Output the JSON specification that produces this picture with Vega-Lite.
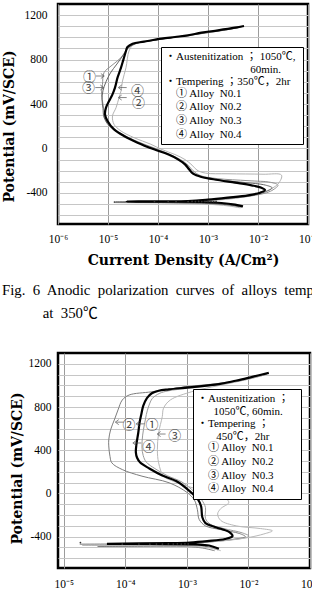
{
  "$schema": "https://vega.github.io/schema/vega-lite/v6.json",
  "background": "white",
  "padding": {"left": 0, "top": 2, "right": 0, "bottom": 0},
  "spacing": 12,
  "resolve": {
    "scale": {"color": "independent", "shape": "independent"},
    "legend": {"color": "independent", "shape": "independent"}
  },
  "config": {
    "view": {"stroke": "black", "strokeWidth": 2.5},
    "axis": {
      "ticks": false, "tickSize": 0, "domain": false,
      "labelFont": "Liberation Serif", "labelFontSize": 11.5, "labelColor": "black",
      "titleFont": "DejaVu Serif", "titleFontWeight": "bold", "titleFontSize": 14, "titleColor": "black",
      "gridWidth": 1, "labelOverlap": false, "labelFlush": false
    },
    "legend": {
      "orient": "none",
      "titleFont": "Liberation Serif, Noto Sans CJK JP", "titleFontWeight": "normal", "titleFontSize": 11, "titleColor": "black",
      "titleLineHeight": 12.6, "titlePadding": 1, "titleLimit": 400,
      "labelFont": "Liberation Serif, Noto Sans CJK JP", "labelFontSize": 11, "labelColor": "black", "labelLimit": 300,
      "symbolSize": 0, "symbolOpacity": 0, "symbolStrokeWidth": 0, "labelOffset": 0, "rowPadding": 1.6,
      "padding": 4, "fillColor": "white", "strokeColor": "black"
    }
  },
  "datasets": {
    "curves350": [
      {"alloy": "N0.1", "current": 4.68e-3, "potential": -530},
      {"alloy": "N0.1", "current": 3.16e-3, "potential": -515},
      {"alloy": "N0.1", "current": 1.58e-3, "potential": -500},
      {"alloy": "N0.1", "current": 3.98e-4, "potential": -490},
      {"alloy": "N0.1", "current": 2.51e-5, "potential": -485},
      {"alloy": "N0.1", "current": 2.51e-4, "potential": -480},
      {"alloy": "N0.1", "current": 7.94e-4, "potential": -470},
      {"alloy": "N0.1", "current": 2.51e-3, "potential": -452},
      {"alloy": "N0.1", "current": 7.94e-3, "potential": -425},
      {"alloy": "N0.1", "current": 1.78e-2, "potential": -385},
      {"alloy": "N0.1", "current": 2.51e-2, "potential": -330},
      {"alloy": "N0.1", "current": 1.78e-2, "potential": -305},
      {"alloy": "N0.1", "current": 6.31e-3, "potential": -290},
      {"alloy": "N0.1", "current": 1.58e-3, "potential": -272},
      {"alloy": "N0.1", "current": 7.08e-4, "potential": -245},
      {"alloy": "N0.1", "current": 5.01e-4, "potential": -200},
      {"alloy": "N0.1", "current": 3.98e-4, "potential": -150},
      {"alloy": "N0.1", "current": 2.82e-4, "potential": -100},
      {"alloy": "N0.1", "current": 1.66e-4, "potential": -50},
      {"alloy": "N0.1", "current": 8.91e-5, "potential": 0},
      {"alloy": "N0.1", "current": 3.98e-5, "potential": 60},
      {"alloy": "N0.1", "current": 1.91e-5, "potential": 130},
      {"alloy": "N0.1", "current": 1.12e-5, "potential": 200},
      {"alloy": "N0.1", "current": 8.71e-6, "potential": 270},
      {"alloy": "N0.1", "current": 8.32e-6, "potential": 337},
      {"alloy": "N0.1", "current": 7.76e-6, "potential": 427},
      {"alloy": "N0.1", "current": 7.41e-6, "potential": 487},
      {"alloy": "N0.1", "current": 7.76e-6, "potential": 577},
      {"alloy": "N0.1", "current": 8.32e-6, "potential": 682},
      {"alloy": "N0.1", "current": 1.15e-5, "potential": 742},
      {"alloy": "N0.1", "current": 1.82e-5, "potential": 817},
      {"alloy": "N0.1", "current": 2.51e-5, "potential": 907},
      {"alloy": "N0.1", "current": 3.55e-5, "potential": 945},
      {"alloy": "N0.1", "current": 7.08e-5, "potential": 968},
      {"alloy": "N0.1", "current": 1.41e-4, "potential": 990},
      {"alloy": "N0.1", "current": 3.55e-4, "potential": 1014},
      {"alloy": "N0.1", "current": 8.91e-4, "potential": 1040},
      {"alloy": "N0.1", "current": 2.00e-3, "potential": 1064},
      {"alloy": "N0.1", "current": 3.98e-3, "potential": 1086},

      {"alloy": "N0.2", "current": 4.47e-3, "potential": -535},
      {"alloy": "N0.2", "current": 2.51e-3, "potential": -517},
      {"alloy": "N0.2", "current": 1.00e-3, "potential": -502},
      {"alloy": "N0.2", "current": 1.58e-4, "potential": -492},
      {"alloy": "N0.2", "current": 1.35e-5, "potential": -487},
      {"alloy": "N0.2", "current": 1.58e-4, "potential": -482},
      {"alloy": "N0.2", "current": 1.00e-3, "potential": -470},
      {"alloy": "N0.2", "current": 3.98e-3, "potential": -445},
      {"alloy": "N0.2", "current": 1.26e-2, "potential": -395},
      {"alloy": "N0.2", "current": 2.51e-2, "potential": -320},
      {"alloy": "N0.2", "current": 2.95e-2, "potential": -240},
      {"alloy": "N0.2", "current": 1.26e-2, "potential": -232},
      {"alloy": "N0.2", "current": 2.51e-3, "potential": -228},
      {"alloy": "N0.2", "current": 8.91e-4, "potential": -222},
      {"alloy": "N0.2", "current": 6.03e-4, "potential": -195},
      {"alloy": "N0.2", "current": 4.79e-4, "potential": -150},
      {"alloy": "N0.2", "current": 3.47e-4, "potential": -100},
      {"alloy": "N0.2", "current": 2.19e-4, "potential": -55},
      {"alloy": "N0.2", "current": 1.20e-4, "potential": -10},
      {"alloy": "N0.2", "current": 7.24e-5, "potential": 37},
      {"alloy": "N0.2", "current": 3.31e-5, "potential": 97},
      {"alloy": "N0.2", "current": 1.82e-5, "potential": 157},
      {"alloy": "N0.2", "current": 1.32e-5, "potential": 217},
      {"alloy": "N0.2", "current": 1.23e-5, "potential": 292},
      {"alloy": "N0.2", "current": 1.45e-5, "potential": 367},
      {"alloy": "N0.2", "current": 1.66e-5, "potential": 457},
      {"alloy": "N0.2", "current": 1.82e-5, "potential": 517},
      {"alloy": "N0.2", "current": 1.95e-5, "potential": 607},
      {"alloy": "N0.2", "current": 2.29e-5, "potential": 727},
      {"alloy": "N0.2", "current": 2.63e-5, "potential": 877},
      {"alloy": "N0.2", "current": 3.16e-5, "potential": 930},
      {"alloy": "N0.2", "current": 5.01e-5, "potential": 958},
      {"alloy": "N0.2", "current": 1.12e-4, "potential": 985},
      {"alloy": "N0.2", "current": 2.51e-4, "potential": 1005},
      {"alloy": "N0.2", "current": 6.31e-4, "potential": 1032},
      {"alloy": "N0.2", "current": 1.41e-3, "potential": 1058},
      {"alloy": "N0.2", "current": 3.16e-3, "potential": 1080},
      {"alloy": "N0.2", "current": 4.79e-3, "potential": 1094},

      {"alloy": "N0.3", "current": 4.79e-3, "potential": -526},
      {"alloy": "N0.3", "current": 2.82e-3, "potential": -510},
      {"alloy": "N0.3", "current": 1.26e-3, "potential": -497},
      {"alloy": "N0.3", "current": 2.00e-4, "potential": -488},
      {"alloy": "N0.3", "current": 1.41e-5, "potential": -482},
      {"alloy": "N0.3", "current": 2.00e-4, "potential": -478},
      {"alloy": "N0.3", "current": 7.94e-4, "potential": -466},
      {"alloy": "N0.3", "current": 2.51e-3, "potential": -448},
      {"alloy": "N0.3", "current": 7.08e-3, "potential": -425},
      {"alloy": "N0.3", "current": 1.41e-2, "potential": -390},
      {"alloy": "N0.3", "current": 1.91e-2, "potential": -355},
      {"alloy": "N0.3", "current": 1.41e-2, "potential": -330},
      {"alloy": "N0.3", "current": 5.01e-3, "potential": -305},
      {"alloy": "N0.3", "current": 1.41e-3, "potential": -280},
      {"alloy": "N0.3", "current": 6.61e-4, "potential": -250},
      {"alloy": "N0.3", "current": 4.68e-4, "potential": -205},
      {"alloy": "N0.3", "current": 3.80e-4, "potential": -150},
      {"alloy": "N0.3", "current": 2.63e-4, "potential": -100},
      {"alloy": "N0.3", "current": 1.58e-4, "potential": -52},
      {"alloy": "N0.3", "current": 8.51e-5, "potential": -5},
      {"alloy": "N0.3", "current": 3.80e-5, "potential": 55},
      {"alloy": "N0.3", "current": 1.91e-5, "potential": 125},
      {"alloy": "N0.3", "current": 1.07e-5, "potential": 200},
      {"alloy": "N0.3", "current": 8.32e-6, "potential": 280},
      {"alloy": "N0.3", "current": 7.94e-6, "potential": 360},
      {"alloy": "N0.3", "current": 7.59e-6, "potential": 440},
      {"alloy": "N0.3", "current": 7.94e-6, "potential": 520},
      {"alloy": "N0.3", "current": 9.12e-6, "potential": 600},
      {"alloy": "N0.3", "current": 1.12e-5, "potential": 680},
      {"alloy": "N0.3", "current": 1.51e-5, "potential": 760},
      {"alloy": "N0.3", "current": 2.09e-5, "potential": 850},
      {"alloy": "N0.3", "current": 2.63e-5, "potential": 910},
      {"alloy": "N0.3", "current": 3.98e-5, "potential": 950},
      {"alloy": "N0.3", "current": 7.94e-5, "potential": 972},
      {"alloy": "N0.3", "current": 1.58e-4, "potential": 992},
      {"alloy": "N0.3", "current": 3.98e-4, "potential": 1016},
      {"alloy": "N0.3", "current": 1.00e-3, "potential": 1042},
      {"alloy": "N0.3", "current": 2.24e-3, "potential": 1066},
      {"alloy": "N0.3", "current": 4.47e-3, "potential": 1090},

      {"alloy": "N0.4", "current": 5.01e-3, "potential": -521},
      {"alloy": "N0.4", "current": 3.47e-3, "potential": -506},
      {"alloy": "N0.4", "current": 1.86e-3, "potential": -491},
      {"alloy": "N0.4", "current": 7.41e-4, "potential": -482},
      {"alloy": "N0.4", "current": 1.26e-4, "potential": -479},
      {"alloy": "N0.4", "current": 2.34e-5, "potential": -477},
      {"alloy": "N0.4", "current": 3.98e-4, "potential": -473},
      {"alloy": "N0.4", "current": 1.00e-3, "potential": -461},
      {"alloy": "N0.4", "current": 2.51e-3, "potential": -443},
      {"alloy": "N0.4", "current": 6.31e-3, "potential": -422},
      {"alloy": "N0.4", "current": 1.10e-2, "potential": -398},
      {"alloy": "N0.4", "current": 1.38e-2, "potential": -374},
      {"alloy": "N0.4", "current": 1.17e-2, "potential": -353},
      {"alloy": "N0.4", "current": 7.41e-3, "potential": -332},
      {"alloy": "N0.4", "current": 3.47e-3, "potential": -308},
      {"alloy": "N0.4", "current": 1.58e-3, "potential": -284},
      {"alloy": "N0.4", "current": 7.41e-4, "potential": -257},
      {"alloy": "N0.4", "current": 5.01e-4, "potential": -227},
      {"alloy": "N0.4", "current": 4.17e-4, "potential": -188},
      {"alloy": "N0.4", "current": 3.47e-4, "potential": -143},
      {"alloy": "N0.4", "current": 2.51e-4, "potential": -98},
      {"alloy": "N0.4", "current": 1.58e-4, "potential": -53},
      {"alloy": "N0.4", "current": 8.32e-5, "potential": -8},
      {"alloy": "N0.4", "current": 3.89e-5, "potential": 52},
      {"alloy": "N0.4", "current": 2.09e-5, "potential": 112},
      {"alloy": "N0.4", "current": 1.32e-5, "potential": 172},
      {"alloy": "N0.4", "current": 9.77e-6, "potential": 247},
      {"alloy": "N0.4", "current": 8.71e-6, "potential": 307},
      {"alloy": "N0.4", "current": 9.12e-6, "potential": 367},
      {"alloy": "N0.4", "current": 1.05e-5, "potential": 427},
      {"alloy": "N0.4", "current": 1.23e-5, "potential": 487},
      {"alloy": "N0.4", "current": 1.38e-5, "potential": 547},
      {"alloy": "N0.4", "current": 1.55e-5, "potential": 637},
      {"alloy": "N0.4", "current": 1.82e-5, "potential": 727},
      {"alloy": "N0.4", "current": 2.04e-5, "potential": 802},
      {"alloy": "N0.4", "current": 2.29e-5, "potential": 877},
      {"alloy": "N0.4", "current": 2.45e-5, "potential": 913},
      {"alloy": "N0.4", "current": 3.09e-5, "potential": 943},
      {"alloy": "N0.4", "current": 5.25e-5, "potential": 961},
      {"alloy": "N0.4", "current": 1.17e-4, "potential": 988},
      {"alloy": "N0.4", "current": 2.19e-4, "potential": 1003},
      {"alloy": "N0.4", "current": 3.98e-4, "potential": 1018},
      {"alloy": "N0.4", "current": 7.41e-4, "potential": 1042},
      {"alloy": "N0.4", "current": 1.58e-3, "potential": 1063},
      {"alloy": "N0.4", "current": 3.47e-3, "potential": 1087},
      {"alloy": "N0.4", "current": 5.25e-3, "potential": 1102}
    ],
    "curves450": [
      {"alloy": "N0.1", "current": 3.16e-3, "potential": -522},
      {"alloy": "N0.1", "current": 2.19e-3, "potential": -495},
      {"alloy": "N0.1", "current": 1.26e-3, "potential": -480},
      {"alloy": "N0.1", "current": 2.00e-4, "potential": -474},
      {"alloy": "N0.1", "current": 1.82e-5, "potential": -470},
      {"alloy": "N0.1", "current": 3.98e-4, "potential": -462},
      {"alloy": "N0.1", "current": 1.26e-3, "potential": -452},
      {"alloy": "N0.1", "current": 3.55e-3, "potential": -436},
      {"alloy": "N0.1", "current": 7.94e-3, "potential": -415},
      {"alloy": "N0.1", "current": 1.02e-2, "potential": -395},
      {"alloy": "N0.1", "current": 7.94e-3, "potential": -365},
      {"alloy": "N0.1", "current": 3.98e-3, "potential": -325},
      {"alloy": "N0.1", "current": 2.40e-3, "potential": -285},
      {"alloy": "N0.1", "current": 2.00e-3, "potential": -230},
      {"alloy": "N0.1", "current": 2.00e-3, "potential": -130},
      {"alloy": "N0.1", "current": 1.74e-3, "potential": -60},
      {"alloy": "N0.1", "current": 1.32e-3, "potential": 15},
      {"alloy": "N0.1", "current": 8.32e-4, "potential": 105},
      {"alloy": "N0.1", "current": 4.79e-4, "potential": 165},
      {"alloy": "N0.1", "current": 3.02e-4, "potential": 230},
      {"alloy": "N0.1", "current": 2.19e-4, "potential": 290},
      {"alloy": "N0.1", "current": 1.95e-4, "potential": 350},
      {"alloy": "N0.1", "current": 1.86e-4, "potential": 430},
      {"alloy": "N0.1", "current": 1.91e-4, "potential": 540},
      {"alloy": "N0.1", "current": 2.04e-4, "potential": 640},
      {"alloy": "N0.1", "current": 2.19e-4, "potential": 730},
      {"alloy": "N0.1", "current": 2.40e-4, "potential": 810},
      {"alloy": "N0.1", "current": 2.75e-4, "potential": 880},
      {"alloy": "N0.1", "current": 3.55e-4, "potential": 925},
      {"alloy": "N0.1", "current": 5.01e-4, "potential": 950},
      {"alloy": "N0.1", "current": 1.00e-3, "potential": 972},
      {"alloy": "N0.1", "current": 2.51e-3, "potential": 998},
      {"alloy": "N0.1", "current": 5.62e-3, "potential": 1030},
      {"alloy": "N0.1", "current": 1.12e-2, "potential": 1065},
      {"alloy": "N0.1", "current": 1.91e-2, "potential": 1100},

      {"alloy": "N0.2", "current": 2.82e-3, "potential": -530},
      {"alloy": "N0.2", "current": 1.78e-3, "potential": -505},
      {"alloy": "N0.2", "current": 1.00e-3, "potential": -492},
      {"alloy": "N0.2", "current": 1.58e-4, "potential": -490},
      {"alloy": "N0.2", "current": 3.55e-5, "potential": -490},
      {"alloy": "N0.2", "current": 3.16e-4, "potential": -480},
      {"alloy": "N0.2", "current": 1.00e-3, "potential": -468},
      {"alloy": "N0.2", "current": 2.51e-3, "potential": -448},
      {"alloy": "N0.2", "current": 5.62e-3, "potential": -425},
      {"alloy": "N0.2", "current": 8.91e-3, "potential": -400},
      {"alloy": "N0.2", "current": 7.08e-3, "potential": -370},
      {"alloy": "N0.2", "current": 3.55e-3, "potential": -335},
      {"alloy": "N0.2", "current": 2.00e-3, "potential": -300},
      {"alloy": "N0.2", "current": 1.58e-3, "potential": -240},
      {"alloy": "N0.2", "current": 1.48e-3, "potential": -150},
      {"alloy": "N0.2", "current": 1.32e-3, "potential": -60},
      {"alloy": "N0.2", "current": 1.00e-3, "potential": 10},
      {"alloy": "N0.2", "current": 5.13e-4, "potential": 99},
      {"alloy": "N0.2", "current": 1.86e-4, "potential": 160},
      {"alloy": "N0.2", "current": 8.91e-5, "potential": 221},
      {"alloy": "N0.2", "current": 6.03e-5, "potential": 283},
      {"alloy": "N0.2", "current": 5.62e-5, "potential": 344},
      {"alloy": "N0.2", "current": 5.37e-5, "potential": 440},
      {"alloy": "N0.2", "current": 5.37e-5, "potential": 497},
      {"alloy": "N0.2", "current": 5.75e-5, "potential": 589},
      {"alloy": "N0.2", "current": 6.61e-5, "potential": 680},
      {"alloy": "N0.2", "current": 7.59e-5, "potential": 773},
      {"alloy": "N0.2", "current": 8.91e-5, "potential": 865},
      {"alloy": "N0.2", "current": 1.15e-4, "potential": 911},
      {"alloy": "N0.2", "current": 2.69e-4, "potential": 941},
      {"alloy": "N0.2", "current": 9.55e-4, "potential": 987},
      {"alloy": "N0.2", "current": 3.31e-3, "potential": 1019},
      {"alloy": "N0.2", "current": 6.31e-3, "potential": 1045},
      {"alloy": "N0.2", "current": 1.26e-2, "potential": 1078},
      {"alloy": "N0.2", "current": 2.00e-2, "potential": 1105},

      {"alloy": "N0.3", "current": 3.55e-3, "potential": -530},
      {"alloy": "N0.3", "current": 2.40e-3, "potential": -505},
      {"alloy": "N0.3", "current": 1.26e-3, "potential": -490},
      {"alloy": "N0.3", "current": 1.58e-4, "potential": -484},
      {"alloy": "N0.3", "current": 2.00e-5, "potential": -480},
      {"alloy": "N0.3", "current": 3.16e-4, "potential": -470},
      {"alloy": "N0.3", "current": 1.12e-3, "potential": -458},
      {"alloy": "N0.3", "current": 3.98e-3, "potential": -438},
      {"alloy": "N0.3", "current": 1.02e-2, "potential": -407},
      {"alloy": "N0.3", "current": 1.78e-2, "potential": -375},
      {"alloy": "N0.3", "current": 2.45e-2, "potential": -346},
      {"alloy": "N0.3", "current": 1.58e-2, "potential": -325},
      {"alloy": "N0.3", "current": 6.31e-3, "potential": -300},
      {"alloy": "N0.3", "current": 3.55e-3, "potential": -250},
      {"alloy": "N0.3", "current": 3.16e-3, "potential": -190},
      {"alloy": "N0.3", "current": 3.55e-3, "potential": -140},
      {"alloy": "N0.3", "current": 4.79e-3, "potential": -85},
      {"alloy": "N0.3", "current": 4.17e-3, "potential": -40},
      {"alloy": "N0.3", "current": 2.51e-3, "potential": 0},
      {"alloy": "N0.3", "current": 1.12e-3, "potential": 60},
      {"alloy": "N0.3", "current": 5.62e-4, "potential": 120},
      {"alloy": "N0.3", "current": 4.17e-4, "potential": 160},
      {"alloy": "N0.3", "current": 3.47e-4, "potential": 283},
      {"alloy": "N0.3", "current": 3.31e-4, "potential": 405},
      {"alloy": "N0.3", "current": 3.47e-4, "potential": 559},
      {"alloy": "N0.3", "current": 3.98e-4, "potential": 712},
      {"alloy": "N0.3", "current": 4.17e-4, "potential": 789},
      {"alloy": "N0.3", "current": 5.37e-4, "potential": 865},
      {"alloy": "N0.3", "current": 1.20e-3, "potential": 942},
      {"alloy": "N0.3", "current": 2.51e-3, "potential": 985},
      {"alloy": "N0.3", "current": 5.01e-3, "potential": 1020},
      {"alloy": "N0.3", "current": 1.00e-2, "potential": 1058},
      {"alloy": "N0.3", "current": 1.78e-2, "potential": 1095},

      {"alloy": "N0.4", "current": 3.31e-3, "potential": -512},
      {"alloy": "N0.4", "current": 2.29e-3, "potential": -482},
      {"alloy": "N0.4", "current": 1.41e-3, "potential": -472},
      {"alloy": "N0.4", "current": 2.51e-4, "potential": -468},
      {"alloy": "N0.4", "current": 5.01e-5, "potential": -466},
      {"alloy": "N0.4", "current": 5.01e-4, "potential": -460},
      {"alloy": "N0.4", "current": 1.12e-3, "potential": -454},
      {"alloy": "N0.4", "current": 2.14e-3, "potential": -441},
      {"alloy": "N0.4", "current": 4.17e-3, "potential": -422},
      {"alloy": "N0.4", "current": 5.50e-3, "potential": -395},
      {"alloy": "N0.4", "current": 4.90e-3, "potential": -358},
      {"alloy": "N0.4", "current": 2.95e-3, "potential": -312},
      {"alloy": "N0.4", "current": 2.00e-3, "potential": -275},
      {"alloy": "N0.4", "current": 1.78e-3, "potential": -220},
      {"alloy": "N0.4", "current": 1.70e-3, "potential": -119},
      {"alloy": "N0.4", "current": 1.51e-3, "potential": -54},
      {"alloy": "N0.4", "current": 1.12e-3, "potential": 19},
      {"alloy": "N0.4", "current": 6.92e-4, "potential": 111},
      {"alloy": "N0.4", "current": 3.98e-4, "potential": 166},
      {"alloy": "N0.4", "current": 2.45e-4, "potential": 231},
      {"alloy": "N0.4", "current": 1.74e-4, "potential": 286},
      {"alloy": "N0.4", "current": 1.55e-4, "potential": 330},
      {"alloy": "N0.4", "current": 1.48e-4, "potential": 380},
      {"alloy": "N0.4", "current": 1.51e-4, "potential": 451},
      {"alloy": "N0.4", "current": 1.62e-4, "potential": 562},
      {"alloy": "N0.4", "current": 1.70e-4, "potential": 654},
      {"alloy": "N0.4", "current": 1.82e-4, "potential": 736},
      {"alloy": "N0.4", "current": 1.95e-4, "potential": 810},
      {"alloy": "N0.4", "current": 2.24e-4, "potential": 883},
      {"alloy": "N0.4", "current": 2.69e-4, "potential": 927},
      {"alloy": "N0.4", "current": 3.47e-4, "potential": 951},
      {"alloy": "N0.4", "current": 5.13e-4, "potential": 964},
      {"alloy": "N0.4", "current": 1.07e-3, "potential": 982},
      {"alloy": "N0.4", "current": 3.31e-3, "potential": 1012},
      {"alloy": "N0.4", "current": 6.17e-3, "potential": 1043},
      {"alloy": "N0.4", "current": 1.15e-2, "potential": 1079},
      {"alloy": "N0.4", "current": 2.14e-2, "potential": 1116}
    ],
    "dots350": [
      {"current": 1.35e-5, "potential": -482},
      {"current": 8.5e-5, "potential": -479},
      {"current": 1.6e-4, "potential": -478},
      {"current": 2.3e-4, "potential": -479},
      {"current": 4.0e-4, "potential": -478},
      {"current": 4.8e-4, "potential": -477},
      {"current": 5.6e-4, "potential": -479},
      {"current": 6.5e-4, "potential": -477},
      {"current": 7.5e-4, "potential": -478},
      {"current": 8.7e-4, "potential": -477},
      {"current": 1.0e-3, "potential": -478},
      {"current": 1.15e-3, "potential": -477},
      {"current": 1.3e-3, "potential": -478},
      {"current": 1.45e-3, "potential": -477}
    ],
    "dots450": [
      {"current": 1.86e-5, "potential": -455},
      {"current": 8.9e-5, "potential": -470},
      {"current": 1.66e-4, "potential": -468},
      {"current": 2.5e-4, "potential": -470},
      {"current": 3.2e-4, "potential": -468},
      {"current": 4.0e-4, "potential": -470},
      {"current": 5.0e-4, "potential": -467},
      {"current": 6.0e-4, "potential": -469},
      {"current": 7.0e-4, "potential": -466},
      {"current": 8.1e-4, "potential": -468},
      {"current": 9.3e-4, "potential": -466},
      {"current": 1.05e-3, "potential": -467}
    ],
    "labels350": [
      {"tag": "①", "current": 4.27e-6, "potential": 643},
      {"tag": "③", "current": 4.07e-6, "potential": 544},
      {"tag": "④", "current": 3.89e-5, "potential": 517},
      {"tag": "②", "current": 4.07e-5, "potential": 409}
    ],
    "arrows350": [
      {"dir": "right", "current": 6.92e-6, "potential": 652},
      {"dir": "right", "current": 6.76e-6, "potential": 548},
      {"dir": "left", "current": 1.95e-5, "potential": 548},
      {"dir": "left", "current": 1.95e-5, "potential": 458}
    ],
    "labels450": [
      {"tag": "②", "current": 1.14e-4, "potential": 635},
      {"tag": "①", "current": 2.72e-4, "potential": 629},
      {"tag": "③", "current": 6.35e-4, "potential": 534},
      {"tag": "④", "current": 2.40e-4, "potential": 430}
    ],
    "arrows450": [
      {"dir": "left", "current": 8.05e-5, "potential": 660},
      {"dir": "left", "current": 1.75e-4, "potential": 644},
      {"dir": "left", "current": 3.85e-4, "potential": 550},
      {"dir": "left", "current": 1.55e-4, "potential": 467}
    ]
  },
  "vconcat": [
    {
      "width": 250,
      "height": 220,
      "layer": [
        {
          "data": {"name": "curves350"},
          "mark": {"type": "line", "interpolate": "catmull-rom", "clip": true},
          "encoding": {
            "x": {
              "field": "current", "type": "quantitative",
              "scale": {"type": "log", "domain": [1e-6, 0.1], "nice": false},
              "axis": {
                "title": "Current Density (A/Cm²)",
                "values": [1e-6, 1e-5, 1e-4, 1e-3, 1e-2, 1e-1], "tickCount": 20,
                "labelExpr": "datum.value < 5e-6 ? '10⁻⁶' : datum.value < 5e-5 ? '10⁻⁵' : datum.value < 5e-4 ? '10⁻⁴' : datum.value < 5e-3 ? '10⁻³' : datum.value < 5e-2 ? '10⁻²' : '10⁻¹'",
                "gridColor": "#9c9c9c", "labelPadding": 9, "titlePadding": 9, "labelDx": 4
              }
            },
            "y": {
              "field": "potential", "type": "quantitative",
              "scale": {"domain": [-680, 1300], "nice": false, "zero": false},
              "axis": {
                "title": "Potential (mV/SCE)",
                "values": [-600, -500, -400, -300, -200, -100, 0, 100, 200, 300, 400, 500, 600, 700, 800, 900, 1000, 1100, 1200],
                "tickCount": 40,
                "labelExpr": "indexof([-400, 0, 400, 800, 1200], datum.value) >= 0 ? toString(datum.value) : ''",
                "gridColor": "#c6c6c6", "labelPadding": 11, "titlePadding": 8, "titleY": 122
              }
            },
            "color": {
              "field": "alloy", "type": "nominal",
              "scale": {"domain": ["N0.1", "N0.2", "N0.3", "N0.4"], "range": ["#8f8f8f", "#b3b3b3", "#666666", "#000000"]},
              "legend": {
                "legendX": 103, "legendY": 43,
                "title": ["・Austenitization\u00a0；\u00a01050℃,", "\u200b\u3000\u3000\u3000\u3000\u3000\u3000\u3000\u00a0\u00a0\u00a060min.", "・Tempering\u00a0；350℃，2hr\u00a0\u00a0\u00a0\u200b"],
                "labelExpr": "(datum.label === 'N0.1' ? '①' : datum.label === 'N0.2' ? '②' : datum.label === 'N0.3' ? '③' : '④') + ' Alloy\u00a0\u00a0' + datum.label"
              }
            },
            "strokeWidth": {"condition": {"test": "datum.alloy === 'N0.4'", "value": 2.2}, "value": 1},
            "order": {"value": null}
          }
        },
        {
          "data": {"name": "dots350"},
          "mark": {"type": "point", "filled": true, "size": 3, "color": "#333333", "opacity": 1},
          "encoding": {
            "x": {"field": "current", "type": "quantitative"},
            "y": {"field": "potential", "type": "quantitative"}
          }
        },
        {
          "data": {"name": "arrows350"},
          "mark": {"type": "point", "filled": false, "size": 70, "strokeWidth": 1, "color": "#555555"},
          "encoding": {
            "x": {"field": "current", "type": "quantitative"},
            "y": {"field": "potential", "type": "quantitative"},
            "shape": {"field": "dir", "type": "nominal", "legend": null,
              "scale": {"domain": ["right", "left"], "range": ["M-1,0L1,0M0.2,-0.6L1,0L0.2,0.6", "M1,0L-1,0M-0.2,-0.6L-1,0L-0.2,0.6"]}}
          }
        },
        {
          "data": {"name": "labels350"},
          "mark": {"type": "text", "font": "Noto Sans CJK JP", "fontSize": 13, "color": "#444444"},
          "encoding": {
            "x": {"field": "current", "type": "quantitative"},
            "y": {"field": "potential", "type": "quantitative"},
            "text": {"field": "tag"}
          }
        }
      ]
    },
    {
      "width": 252,
      "height": 215,
      "title": {
        "text": ["Fig.\u00a0 6\u00a0 Anodic\u00a0 polarization\u00a0 curves\u00a0 of\u00a0 alloys\u00a0 tempered", "\u200b\u00a0\u00a0\u00a0\u00a0\u00a0\u00a0\u00a0\u00a0\u00a0\u00a0\u00a0at\u00a0 350℃"],
        "orient": "top", "anchor": "start", "frame": "group", "dx": -56, "offset": 32,
        "font": "Liberation Serif, Noto Sans CJK JP", "fontSize": 14.8, "fontWeight": "normal", "color": "black", "lineHeight": 23
      },
      "layer": [
        {
          "data": {"name": "curves450"},
          "mark": {"type": "line", "interpolate": "catmull-rom", "clip": true},
          "encoding": {
            "x": {
              "field": "current", "type": "quantitative",
              "scale": {"type": "log", "domain": [8.04e-6, 0.1], "nice": false},
              "axis": {
                "title": "Current Density (A/Cm²)",
                "values": [1e-5, 1e-4, 1e-3, 1e-2, 1e-1], "tickCount": 20,
                "labelExpr": "datum.value < 5e-5 ? '10⁻⁵' : datum.value < 5e-4 ? '10⁻⁴' : datum.value < 5e-3 ? '10⁻³' : datum.value < 5e-2 ? '10⁻²' : '10⁻¹'",
                "gridColor": "#9c9c9c", "labelPadding": 10, "titlePadding": 9, "labelDx": 4
              }
            },
            "y": {
              "field": "potential", "type": "quantitative",
              "scale": {"domain": [-690, 1300], "nice": false, "zero": false},
              "axis": {
                "title": "Potential (mV/SCE)",
                "values": [-600, -500, -400, -300, -200, -100, 0, 100, 200, 300, 400, 500, 600, 700, 800, 900, 1000, 1100, 1200],
                "tickCount": 40,
                "labelExpr": "indexof([-400, 0, 400, 800, 1200], datum.value) >= 0 ? toString(datum.value) : ''",
                "gridColor": "#c6c6c6", "labelPadding": 7, "titlePadding": 4, "titleY": 115
              }
            },
            "color": {
              "field": "alloy", "type": "nominal",
              "scale": {"domain": ["N0.1", "N0.2", "N0.3", "N0.4"], "range": ["#9a9a9a", "#7d7d7d", "#b8b8b8", "#000000"]},
              "legend": {
                "legendX": 135, "legendY": 36,
                "title": ["・Austenitization\u00a0；", "\u200b\u3000\u00a0\u00a01050℃,\u00a060min.\u00a0\u00a0\u00a0\u00a0\u00a0\u200b", "・Tempering\u00a0；", "\u200b\u3000\u00a0\u00a0\u00a0450℃，2hr"],
                "labelExpr": "(datum.label === 'N0.1' ? '①' : datum.label === 'N0.2' ? '②' : datum.label === 'N0.3' ? '③' : '④') + ' Alloy\u00a0\u00a0' + datum.label"
              }
            },
            "strokeWidth": {"condition": {"test": "datum.alloy === 'N0.4'", "value": 2.2}, "value": 1},
            "order": {"value": null}
          }
        },
        {
          "data": {"name": "dots450"},
          "mark": {"type": "point", "filled": true, "size": 3, "color": "#333333", "opacity": 1},
          "encoding": {
            "x": {"field": "current", "type": "quantitative"},
            "y": {"field": "potential", "type": "quantitative"}
          }
        },
        {
          "data": {"name": "arrows450"},
          "mark": {"type": "point", "filled": false, "size": 70, "strokeWidth": 1, "color": "#555555"},
          "encoding": {
            "x": {"field": "current", "type": "quantitative"},
            "y": {"field": "potential", "type": "quantitative"},
            "shape": {"field": "dir", "type": "nominal", "legend": null,
              "scale": {"domain": ["right", "left"], "range": ["M-1,0L1,0M0.2,-0.6L1,0L0.2,0.6", "M1,0L-1,0M-0.2,-0.6L-1,0L-0.2,0.6"]}}
          }
        },
        {
          "data": {"name": "labels450"},
          "mark": {"type": "text", "font": "Noto Sans CJK JP", "fontSize": 13, "color": "#444444"},
          "encoding": {
            "x": {"field": "current", "type": "quantitative"},
            "y": {"field": "potential", "type": "quantitative"},
            "text": {"field": "tag"}
          }
        }
      ]
    }
  ]
}
